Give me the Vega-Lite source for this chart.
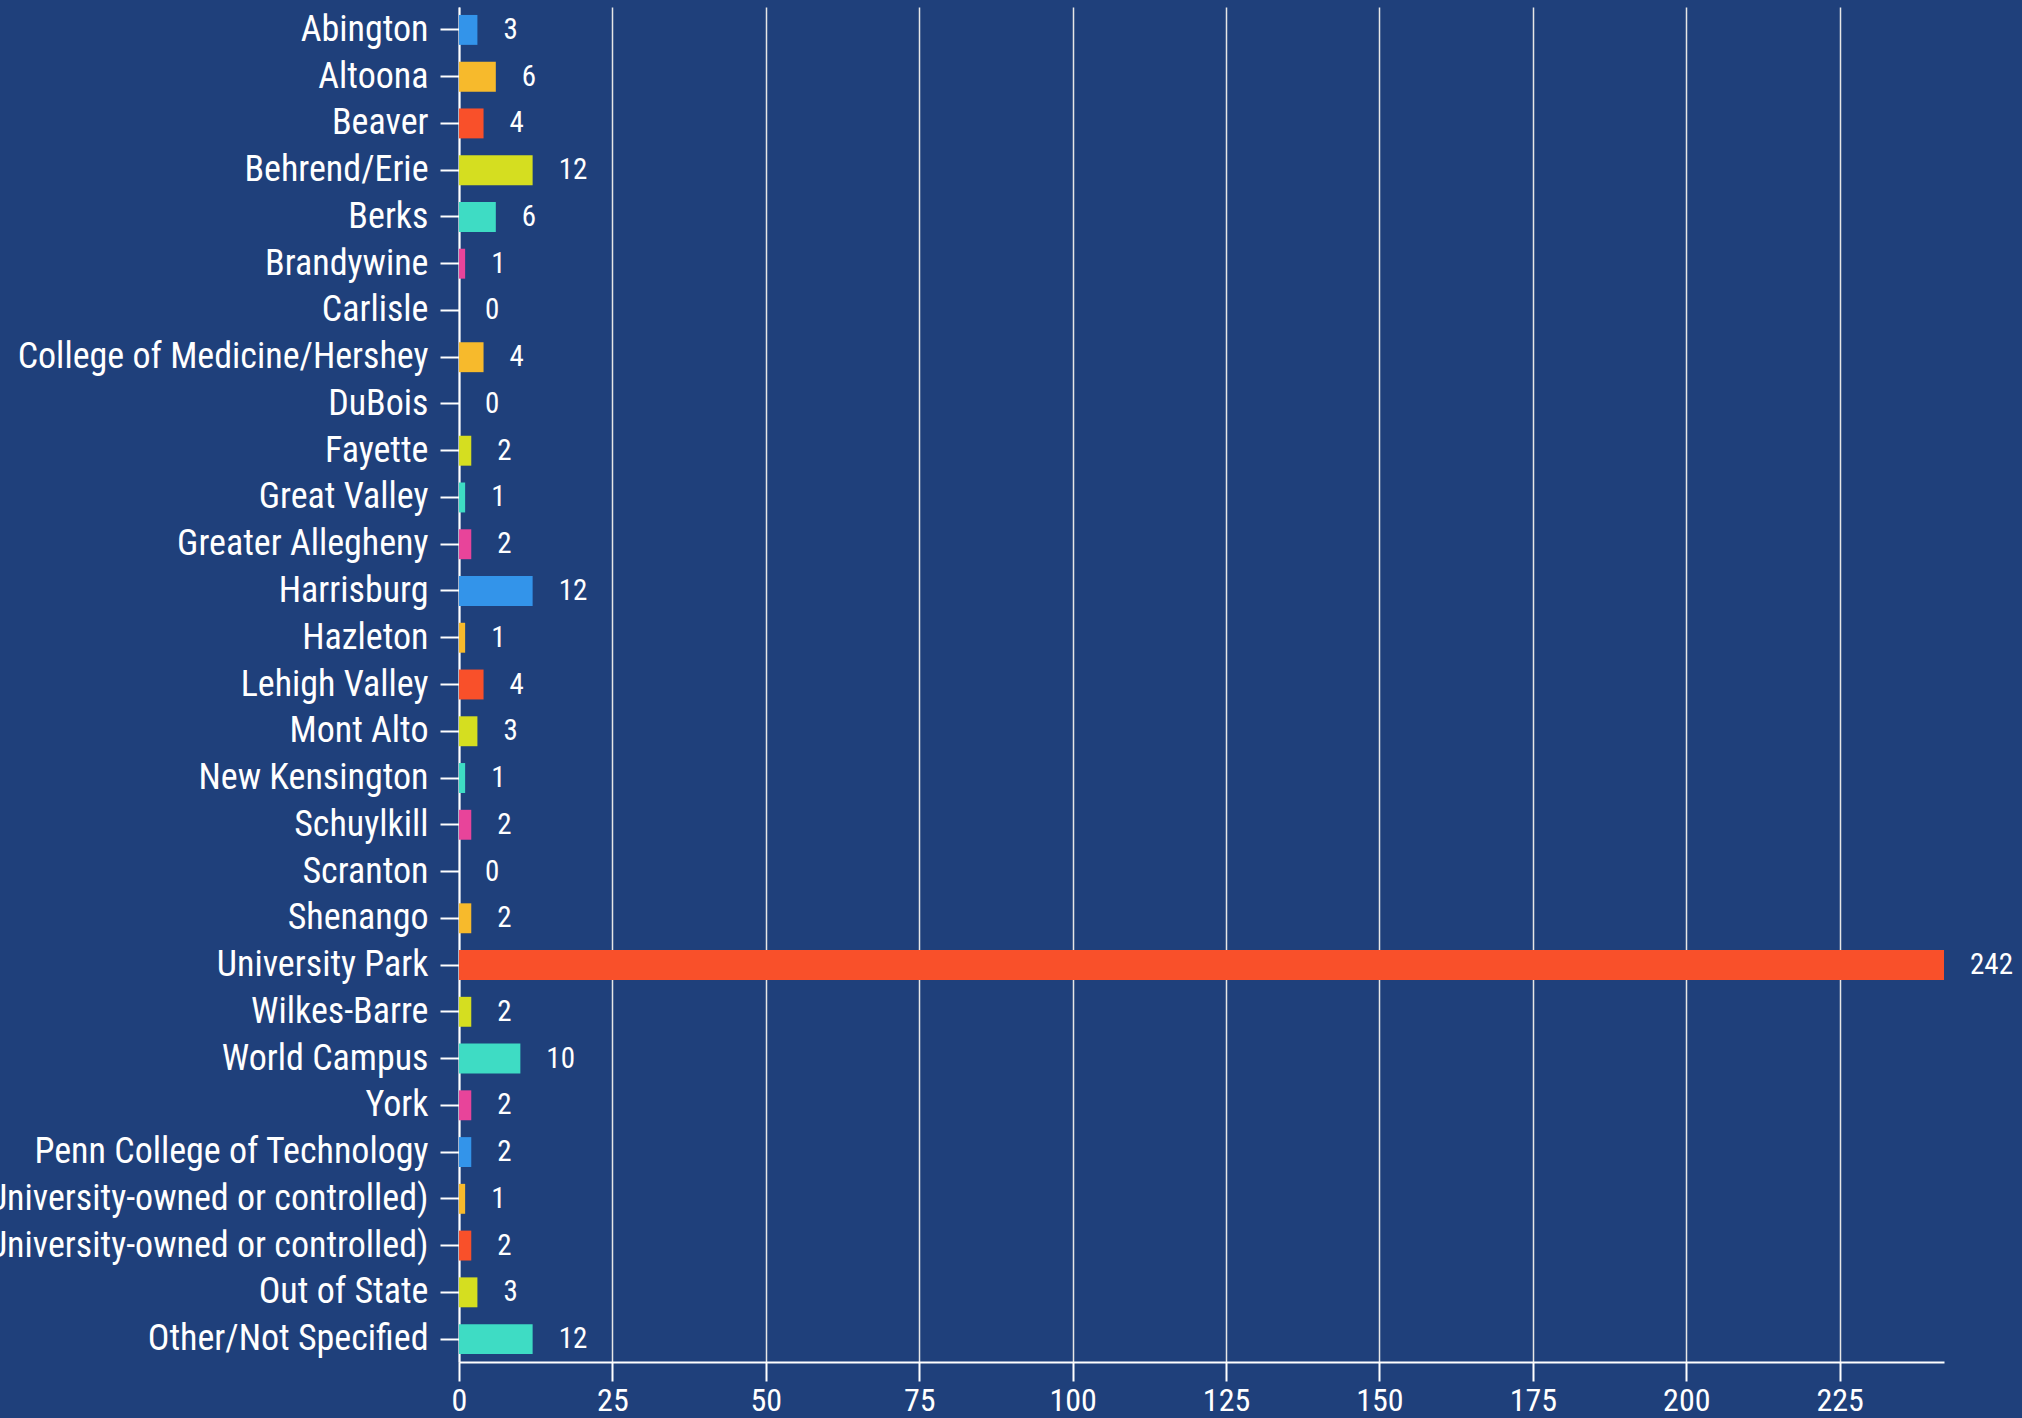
{
  "$schema": "https://vega.github.io/schema/vega-lite/v6.json",
  "autosize": {"type": "none"},
  "padding": {"left": 459, "top": 7, "right": 78, "bottom": 56},
  "width": 1485,
  "height": 1355,
  "background": "#1F407B",
  "config": {
    "view": {"stroke": null},
    "font": "Roboto Condensed, Roboto",
    "axis": {"labelFont": "Roboto Condensed, Roboto", "labelColor": "#FFFFFF", "domainColor": "#FFFFFF", "tickColor": "#FFFFFF", "domainWidth": 2, "tickWidth": 2}
  },
  "data": {
    "values": [
      {"campus": "Abington", "count": 3},
      {"campus": "Altoona", "count": 6},
      {"campus": "Beaver", "count": 4},
      {"campus": "Behrend/Erie", "count": 12},
      {"campus": "Berks", "count": 6},
      {"campus": "Brandywine", "count": 1},
      {"campus": "Carlisle", "count": 0},
      {"campus": "College of Medicine/Hershey", "count": 4},
      {"campus": "DuBois", "count": 0},
      {"campus": "Fayette", "count": 2},
      {"campus": "Great Valley", "count": 1},
      {"campus": "Greater Allegheny", "count": 2},
      {"campus": "Harrisburg", "count": 12},
      {"campus": "Hazleton", "count": 1},
      {"campus": "Lehigh Valley", "count": 4},
      {"campus": "Mont Alto", "count": 3},
      {"campus": "New Kensington", "count": 1},
      {"campus": "Schuylkill", "count": 2},
      {"campus": "Scranton", "count": 0},
      {"campus": "Shenango", "count": 2},
      {"campus": "University Park", "count": 242},
      {"campus": "Wilkes-Barre", "count": 2},
      {"campus": "World Campus", "count": 10},
      {"campus": "York", "count": 2},
      {"campus": "Penn College of Technology", "count": 2},
      {"campus": "Pennsylvania (Not University-owned or controlled)", "count": 1},
      {"campus": "Other Location (Not University-owned or controlled)", "count": 2},
      {"campus": "Out of State", "count": 3},
      {"campus": "Other/Not Specified", "count": 12}
    ]
  },
  "encoding": {
    "y": {
      "field": "campus",
      "type": "nominal",
      "sort": null,
      "scale": {"paddingInner": 0.36, "paddingOuter": 0.17},
      "axis": {"title": null, "labelFontSize": 36, "labelPadding": 12, "tickSize": 19, "labelLimit": 2000, "grid": false}
    }
  },
  "layer": [
    {
      "mark": {"type": "bar"},
      "encoding": {
        "x": {
          "field": "count",
          "type": "quantitative",
          "scale": {"domain": [0, 242], "nice": false},
          "axis": {"title": null, "values": [0, 25, 50, 75, 100, 125, 150, 175, 200, 225], "labelFontSize": 32, "labelPadding": 4, "tickSize": 19, "grid": true, "gridColor": "#E6E6E6", "gridWidth": 1.5, "gridOpacity": 1, "labelFlush": false}
        },
        "color": {
          "field": "campus",
          "type": "nominal",
          "legend": null,
          "scale": {
            "domain": ["Abington", "Altoona", "Beaver", "Behrend/Erie", "Berks", "Brandywine", "Carlisle", "College of Medicine/Hershey", "DuBois", "Fayette", "Great Valley", "Greater Allegheny", "Harrisburg", "Hazleton", "Lehigh Valley", "Mont Alto", "New Kensington", "Schuylkill", "Scranton", "Shenango", "University Park", "Wilkes-Barre", "World Campus", "York", "Penn College of Technology", "Pennsylvania (Not University-owned or controlled)", "Other Location (Not University-owned or controlled)", "Out of State", "Other/Not Specified"],
            "range": ["#3394EA", "#F7BA2C", "#F9502A", "#D5DE20", "#3EDCC4", "#E8449A"]
          }
        }
      }
    },
    {
      "mark": {"type": "text", "align": "left", "baseline": "middle", "dx": 26, "fontSize": 29, "color": "#FFFFFF", "font": "Roboto Condensed, Roboto"},
      "encoding": {
        "x": {"field": "count", "type": "quantitative"},
        "text": {"field": "count", "type": "quantitative"}
      }
    }
  ]
}
